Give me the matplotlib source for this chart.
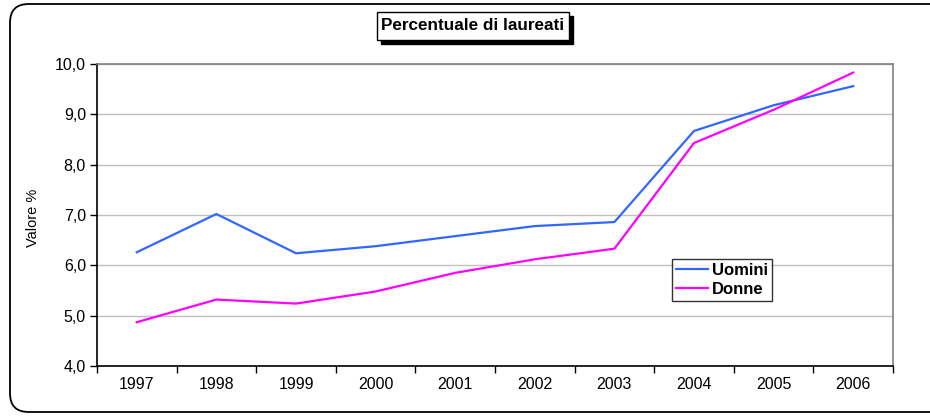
import matplotlib
matplotlib.use("Agg")
import matplotlib.pyplot as plt
from matplotlib.patches import FancyBboxPatch, Rectangle

years = ["1997", "1998", "1999", "2000", "2001", "2002", "2003", "2004", "2005", "2006"]
uomini = [6.26, 7.02, 6.24, 6.38, 6.58, 6.78, 6.86, 8.67, 9.18, 9.56]
donne = [4.87, 5.32, 5.24, 5.48, 5.85, 6.12, 6.33, 8.43, 9.09, 9.83]
yticks = [4.0, 5.0, 6.0, 7.0, 8.0, 9.0, 10.0]
ytick_labels = ["4,0", "5,0", "6,0", "7,0", "8,0", "9,0", "10,0"]

plt.rcParams['font.family'] = ['Liberation Sans', 'DejaVu Sans']

W, H = 930, 416
fig = plt.figure(figsize=(W / 100, H / 100), dpi=100)

def fx(px):
    return px / W

def fy(py):
    return 1 - py / H

# outer rounded border
outer = FancyBboxPatch((fx(10), fy(412)), fx(960) - fx(10), fy(4) - fy(412),
                       boxstyle="round,pad=0,rounding_size=0.02",
                       transform=fig.transFigure, facecolor="none",
                       edgecolor="black", linewidth=1.3, mutation_aspect=W / H, zorder=5)
fig.patches.append(outer)

# plot area
left, right, top, bottom = 97, 893, 64, 366
ax = fig.add_axes([fx(left), fy(bottom), fx(right) - fx(left), fy(top) - fy(bottom)])
x = list(range(len(years)))
ax.plot(x, uomini, color="#3366FF", lw=1.6, label="Uomini")
ax.plot(x, donne, color="#FF00FF", lw=1.6, label="Donne")

ax.set_xlim(-0.5, len(years) - 0.5)
ax.set_ylim(4.0, 10.0)
ax.set_yticks(yticks)
ax.set_yticklabels(ytick_labels, fontsize=11.5)
ax.set_xticks(x)
ax.set_xticklabels(years, fontsize=11.5)
ax.set_xticks([i - 0.5 for i in range(len(years) + 1)], minor=True)
ax.tick_params(axis="x", which="major", length=0, pad=8)
ax.tick_params(axis="x", which="minor", length=5, width=1, direction="out", color="black")
ax.tick_params(axis="y", length=5, width=1, direction="out", color="black", pad=3)
ax.grid(axis="y", color="#C0C0C0", lw=1)
ax.set_axisbelow(True)
for s in ["top", "right"]:
    ax.spines[s].set_color("#808080")
    ax.spines[s].set_linewidth(1.2)
for s in ["left", "bottom"]:
    ax.spines[s].set_color("black")
    ax.spines[s].set_linewidth(1.2)

fig.text(fx(33), fy(218), "Valore %", rotation=90, fontsize=10.5, ha="center", va="center")

# legend
leg = ax.legend(loc="upper left", bbox_to_anchor=((672 - left) / (right - left), (bottom - 259) / (bottom - top)),
                frameon=True, fancybox=False, prop={"weight": "bold", "size": 12},
                handlelength=1.9, handletextpad=0.25, borderpad=0.25, labelspacing=0.2,
                borderaxespad=0)
leg.get_frame().set_edgecolor("black")
leg.get_frame().set_linewidth(1.0)

# title box with shadow
bx0, bx1, by0, by1 = 377, 569, 12, 40
shadow = Rectangle((fx(bx0 + 4), fy(by1 + 4)), fx(bx1) - fx(bx0), fy(by0) - fy(by1),
                   transform=fig.transFigure, facecolor="black", edgecolor="black", zorder=6)
fig.patches.append(shadow)
box = Rectangle((fx(bx0), fy(by1)), fx(bx1) - fx(bx0), fy(by0) - fy(by1),
                transform=fig.transFigure, facecolor="white", edgecolor="black", linewidth=1.0, zorder=7)
fig.patches.append(box)
fig.text(fx((bx0 + bx1) / 2), fy((by0 + by1) / 2), "Percentuale di laureati",
         fontsize=12.3, fontweight="bold", ha="center", va="center", zorder=8)

fig.savefig("out.png", dpi=100)
